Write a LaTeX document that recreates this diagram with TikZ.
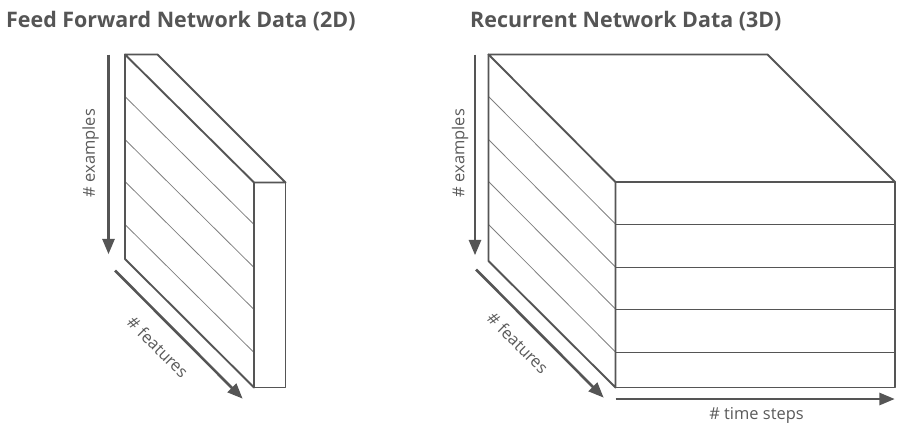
\documentclass[tikz,border=0pt]{standalone}
\usepackage{fontspec}
\setmainfont{Open Sans}
\usepackage{tikz}
\usetikzlibrary{arrows,calc}
\definecolor{EdgeGray}{HTML}{555555}
\definecolor{RuleGray}{HTML}{808080}
\definecolor{TextGray}{HTML}{5A5A5A}
\newcommand{\MainColor}{EdgeGray}

\begin{document}
\begin{tikzpicture}[line cap=round,line join=round,>=triangle 45,x=1bp,y=-1bp,
  outline/.style={color=\MainColor,line width=1.9bp},
  rule/.style={color=RuleGray,line width=0.8bp},
  axis/.style={->,color=\MainColor,line width=2.6bp,line cap=butt},
  axislabel/.style={color=TextGray,font=\fontsize{16.5}{18}\selectfont,inner sep=0pt},
  heading/.style={color=EdgeGray,font=\fontsize{21.5}{24}\selectfont\bfseries,anchor=west,inner sep=0pt}]
  \useasboundingbox (0,0) rectangle (906,432);
  \node[heading] (ffTitle) at (6,21) {Feed Forward Network Data (2D)};
  \node[heading] (rnTitle) at (470,21) {Recurrent Network Data (3D)};
  % 2D slab
  \coordinate (fA) at (125,54.5);
  \coordinate (fB) at (157.5,54.5);
  \coordinate (fC) at (285.5,182.5);
  \coordinate (fD) at (254,182.5);
  \coordinate (fE) at (254,387.5);
  \coordinate (fF) at (285.5,387.5);
  \coordinate (fG) at (125,259);
  \foreach \y in {42,85,127,170}
  \draw[rule] ($(fA)+(0,\y)$) -- ($(fD)+(0,\y)$);
  \draw[outline] (fA) -- (fB) -- (fC) -- (fD) -- cycle;
  \draw[outline] (fA) -- (fG) -- (fE) -- (fD);
  \draw[outline] (fD) rectangle (fF);
  \coordinate (fExS) at (108.5,54.5);
  \coordinate (fExE) at (108.5,254);
  \coordinate (fFtS) at (115,270.5);
  \coordinate (fFtE) at (242.5,398.5);
  \draw[axis] (fExS) -- (fExE);
  \draw[axis] (fFtS) -- (fFtE);
  \node[axislabel,rotate=90] (fExLabel) at (90.5,153) {\# examples};
  \node[axislabel,rotate=-45] (fFtLabel) at (158,347) {\# features};
  % 3D block
  \coordinate (rA) at (488.5,54.5);
  \coordinate (rB) at (767.5,54.5);
  \coordinate (rC) at (895,182);
  \coordinate (rD) at (615.5,182);
  \coordinate (rE) at (615.5,387.5);
  \coordinate (rF) at (895,387.5);
  \coordinate (rG) at (488.5,261);
  \foreach \y in {42,85,127,170}
  {
  \draw[rule] ($(rA)+(0,\y)$) -- ($(rD)+(0,\y)$);
  \draw[rule,color=EdgeGray] ($(rD)+(0,\y)$) -- ($(rC)+(0,\y)$);
  }
  \draw[outline] (rA) -- (rB) -- (rC) -- (rD) -- cycle;
  \draw[outline] (rA) -- (rG) -- (rE) -- (rD);
  \draw[outline] (rD) rectangle (rF);
  \coordinate (rExS) at (475,54.5);
  \coordinate (rExE) at (475,255);
  \coordinate (rFtS) at (476,269.5);
  \coordinate (rFtE) at (603.5,397.5);
  \coordinate (rTsS) at (615.5,399);
  \coordinate (rTsE) at (894.5,399);
  \draw[axis] (rExS) -- (rExE);
  \draw[axis] (rFtS) -- (rFtE);
  \draw[axis] (rTsS) -- (rTsE);
  \node[axislabel,rotate=90] (rExLabel) at (460,153) {\# examples};
  \node[axislabel,rotate=-45] (rFtLabel) at (518,343) {\# features};
  \node[axislabel] (rTsLabel) at (756.5,415.5) {\# time steps};
\end{tikzpicture}
\end{document}
